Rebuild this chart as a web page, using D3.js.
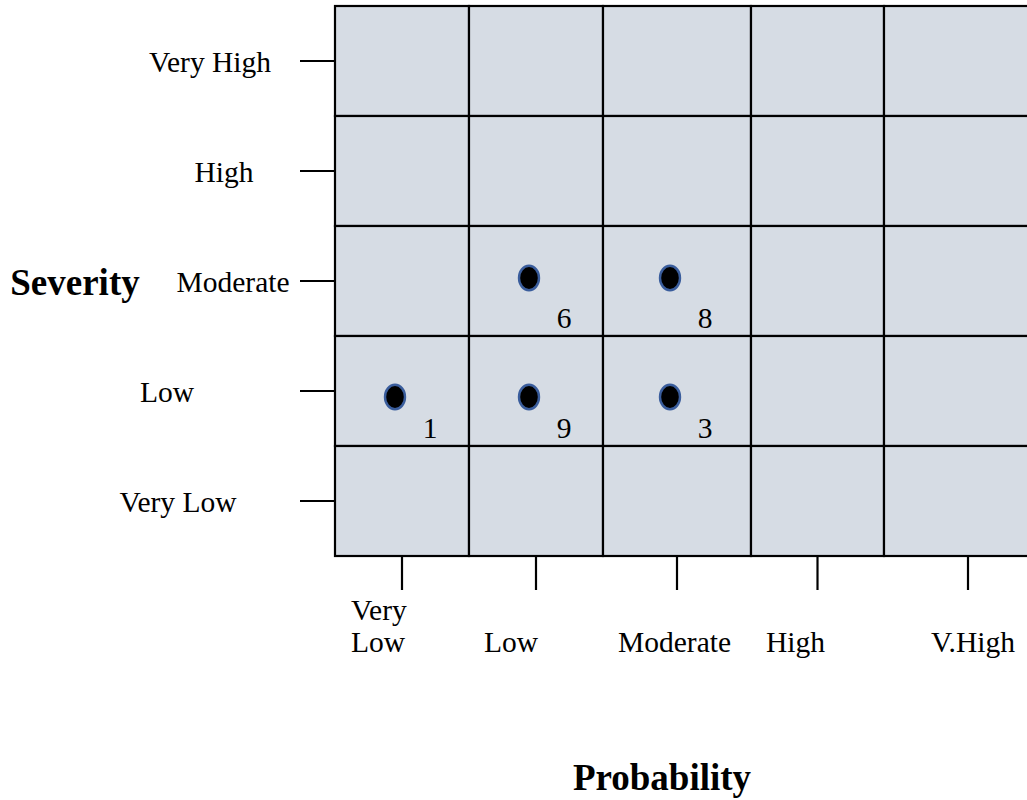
<!DOCTYPE html>
<html>
<head>
<meta charset="utf-8">
<script src="https://cdn.jsdelivr.net/npm/d3@7"></script>
<style>
  html, body { margin: 0; padding: 0; background: #fff; }
  svg { display: block; font-family: "Liberation Serif", "Times New Roman", serif; }
</style>
</head>
<body>
<svg id="chart" width="1027" height="800"></svg>
<script>
// ---- data ----
const probabilityCategories = ["Very Low", "Low", "Moderate", "High", "V.High"];
const severityCategories = ["Very High", "High", "Moderate", "Low", "Very Low"];
const riskIds = ["6", "8", "1", "9", "3"];
const riskProbability = ["Low", "Moderate", "Very Low", "Low", "Moderate"];
const riskSeverity = ["Moderate", "Moderate", "Low", "Low", "Low"];
const xAxisTitle = "Probability";
const yAxisTitle = "Severity";

// ---- layout ----
const colEdges = [335, 469, 603, 751, 884, 1052];   // column boundaries (px)
const gridTop = 6, gridBottom = 556;
const yLabelCenters = [210, 224, 233, 167, 178];    // per-label x centre of severity labels
const xLabelStarts = [351, 484, 618, 766, 931];     // per-label x start of probability labels
const labelSize = 29.5;

const svg = d3.select("#chart");

// Piecewise-linear scale from column index to pixel
const xEdge = d3.scaleLinear().domain(d3.range(colEdges.length)).range(colEdges);
const xIndex = d3.scaleOrdinal().domain(probabilityCategories).range(d3.range(probabilityCategories.length));
const xStart = c => xEdge(xIndex(c));
const xEnd = c => xEdge(xIndex(c) + 1);
const xCenter = c => (xStart(c) + xEnd(c)) / 2;

const y = d3.scaleBand().domain(severityCategories).range([gridTop, gridBottom]).padding(0);
const yCenter = c => y(c) + y.bandwidth() / 2;

// ---- cells ----
const cells = [];
severityCategories.forEach(s => probabilityCategories.forEach(p => cells.push({ s, p })));
svg.append("g").selectAll("rect").data(cells).join("rect")
  .attr("x", d => xStart(d.p))
  .attr("y", d => y(d.s))
  .attr("width", d => xEnd(d.p) - xStart(d.p))
  .attr("height", y.bandwidth())
  .attr("fill", "#D6DCE4")
  .attr("stroke", "#000")
  .attr("stroke-width", 2.2);

// ---- y ticks & labels ----
const yAxisG = svg.append("g");
yAxisG.selectAll("line").data(severityCategories).join("line")
  .attr("x1", 300).attr("x2", colEdges[0])
  .attr("y1", d => yCenter(d)).attr("y2", d => yCenter(d))
  .attr("stroke", "#000").attr("stroke-width", 2.2);
yAxisG.selectAll("text").data(severityCategories).join("text")
  .attr("x", (d, i) => yLabelCenters[i])
  .attr("y", d => yCenter(d) + 10.5)
  .attr("text-anchor", "middle")
  .attr("font-size", labelSize)
  .attr("fill", "#000")
  .text(d => d);

// ---- x ticks & labels ----
const xAxisG = svg.append("g");
xAxisG.selectAll("line").data(probabilityCategories).join("line")
  .attr("x1", d => xCenter(d)).attr("x2", d => xCenter(d))
  .attr("y1", gridBottom).attr("y2", 590)
  .attr("stroke", "#000").attr("stroke-width", 2.2);
xAxisG.selectAll("text").data(probabilityCategories).join("text")
  .attr("x", (d, i) => xLabelStarts[i])
  .attr("y", 652)
  .attr("font-size", labelSize)
  .attr("fill", "#000")
  .each(function (d, i) {
    const t = d3.select(this);
    const parts = d.split(" ");
    if (parts.length > 1) {
      t.append("tspan").attr("x", xLabelStarts[i]).attr("dy", -32).text(parts[0]);
      t.append("tspan").attr("x", xLabelStarts[i]).attr("dy", 32).text(parts.slice(1).join(" "));
    } else {
      t.text(d);
    }
  });

// ---- axis titles ----
svg.append("text")
  .attr("x", 75).attr("y", 295)
  .attr("text-anchor", "middle")
  .attr("font-size", 37).attr("font-weight", "bold")
  .text(yAxisTitle);
svg.append("text")
  .attr("x", 662).attr("y", 790)
  .attr("text-anchor", "middle")
  .attr("font-size", 37).attr("font-weight", "bold")
  .text(xAxisTitle);

// ---- risk points ----
const pts = riskIds.map((id, i) => ({ id, p: riskProbability[i], s: riskSeverity[i] }));
const ptG = svg.append("g");
ptG.selectAll("ellipse").data(pts).join("ellipse")
  .attr("cx", d => xCenter(d.p) - 7)
  .attr("cy", d => yCenter(d.s) + (d.s === "Low" ? 6 : -3))
  .attr("rx", 10).attr("ry", 12.2)
  .attr("fill", "#000")
  .attr("stroke", "#3A5D9C")
  .attr("stroke-width", 2.4);
ptG.selectAll("text").data(pts).join("text")
  .attr("x", d => xCenter(d.p) + 28)
  .attr("y", d => yCenter(d.s) + 47)
  .attr("text-anchor", "middle")
  .attr("font-size", labelSize)
  .attr("fill", "#000")
  .text(d => d.id);
</script>
</body>
</html>
